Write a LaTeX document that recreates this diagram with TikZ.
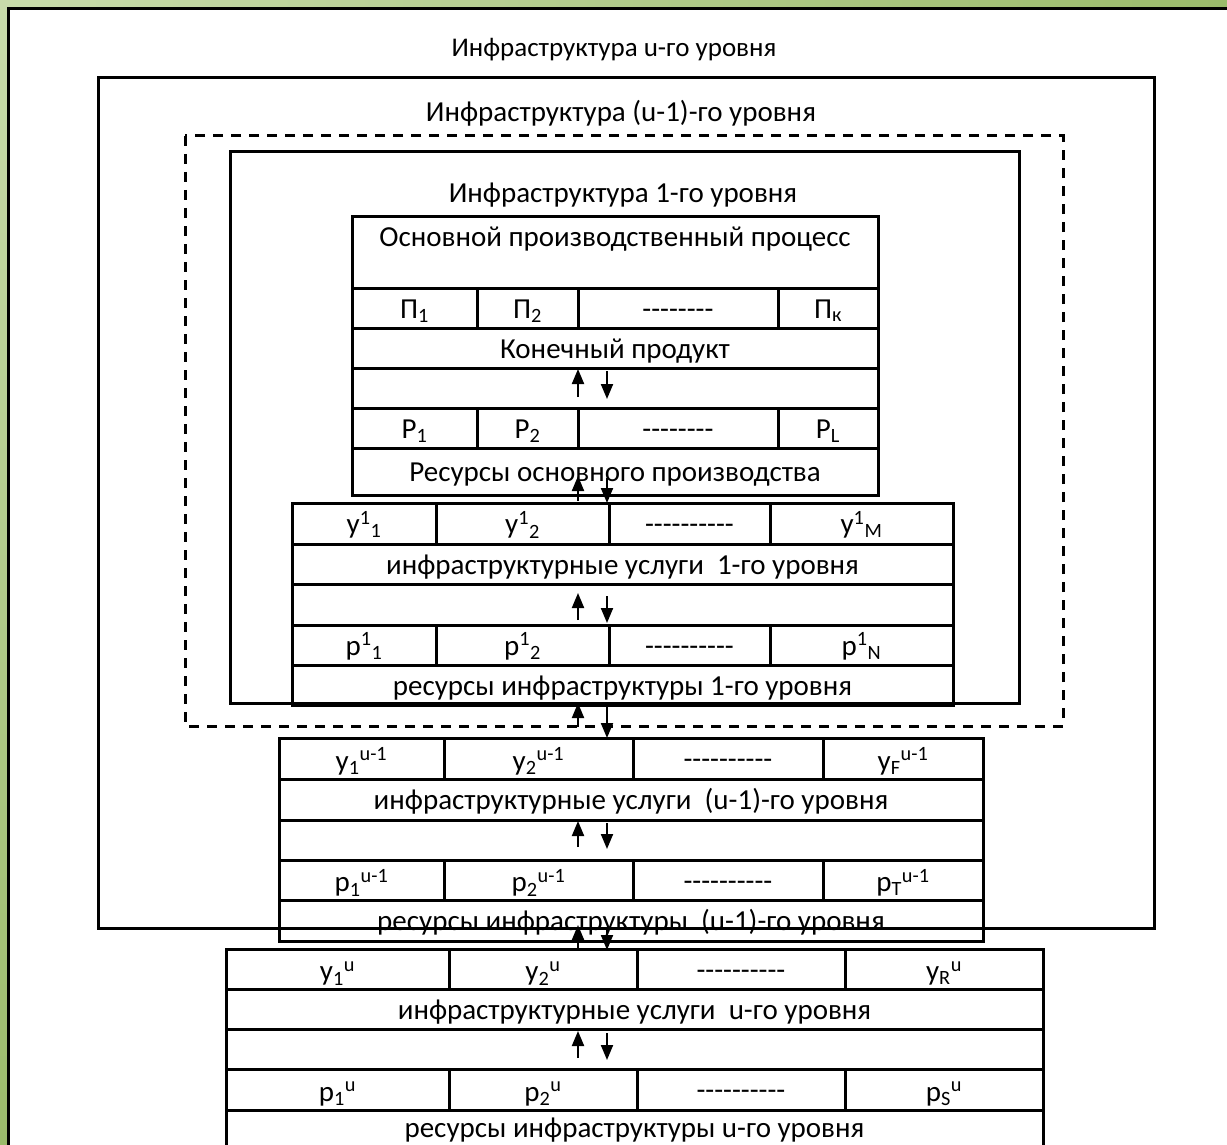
\documentclass[tikz,border=0pt]{standalone}
\usepackage{fontspec}
\setmainfont{Carlito}[Ligatures=TeXOff]
\usetikzlibrary{positioning,arrows.meta}
\definecolor{greenL}{HTML}{C8DBAB}
\definecolor{greenD}{HTML}{9BBB6B}

\tikzset{
  box/.style={draw, line width=3pt, inner sep=0pt, outer sep=0pt, minimum height=40pt,
    text height=24pt, text depth=4pt},
  tallbox/.style={box, text height=27pt, text depth=4pt},
  frame/.style={draw, line width=3pt},
  dframe/.style={draw, line width=3pt, dash pattern=on 10pt off 8pt},
  arr/.style={line width=2pt, -{Triangle[length=15pt, width=12pt]}}
}

\begin{document}
\begin{tikzpicture}[x=1pt, y=-1pt, font=\fontsize{29}{34}\selectfont]
\useasboundingbox (0,0) rectangle (1227,1145);
\clip (0,0) rectangle (1227,1145);
\fill[white] (0,0) rectangle (1227,1145);
% green border
\shade[left color=greenL, right color=greenD] (0,0) rectangle (1227,7);
\shade[top color=greenL, bottom color=greenD] (0,0) rectangle (7,1145);
\draw[line width=2.5pt] (8.5,1145) -- (8.5,8.5) -- (1227,8.5);

% frames
\draw[frame] (98,78) rectangle (1154,928);
\draw[dframe] (185,136) rectangle (1063,726);
\draw[frame] (230,152) rectangle (1019,703);
\node (t0)[font=\fontsize{27}{32}\selectfont] at (614,50) {Инфраструктура u-го уровня};
\node (t1) at (621,113) {Инфраструктура (u-1)-го уровня};
\node (t2) at (623,195) {Инфраструктура 1-го уровня};

% main process
\node (A0)[box, minimum width=526pt, minimum height=72pt, text height=18pt, text depth=28pt, anchor=north west] at (352,216) {Основной производственный процесс};
\node (A11)[box, minimum width=125pt, below=0pt of A0.south west, anchor=north west] {П\textsubscript{1}};
\node (A12)[box, minimum width=101pt, right=0pt of A11] {П\textsubscript{2}};
\node (A13)[box, minimum width=200pt, right=0pt of A12] {--------};
\node (A14)[box, minimum width=100pt, right=0pt of A13] {П\textsubscript{к}};
\node (A2)[box, minimum width=526pt, below=0pt of A11.south west, anchor=north west] {Конечный продукт};
\node (A3)[box, minimum width=526pt, below=0pt of A2] {};
\node (A41)[box, minimum width=125pt, below=0pt of A3.south west, anchor=north west] {P\textsubscript{1}};
\node (A42)[box, minimum width=101pt, right=0pt of A41] {P\textsubscript{2}};
\node (A43)[box, minimum width=200pt, right=0pt of A42] {--------};
\node (A44)[box, minimum width=100pt, right=0pt of A43] {P\textsubscript{L}};
\node (A5)[box, minimum width=526pt, minimum height=47pt, below=0pt of A41.south west, anchor=north west] {Ресурсы основного производства};

% level 1
\node (B11)[box, minimum width=144pt, minimum height=41pt, anchor=north west] at (292,503) {у\textsuperscript{1}\textsubscript{1}};
\node (B12)[box, minimum width=173pt, minimum height=41pt, right=0pt of B11] {у\textsuperscript{1}\textsubscript{2}};
\node (B13)[box, minimum width=161pt, minimum height=41pt, right=0pt of B12] {----------};
\node (B14)[box, minimum width=183pt, minimum height=41pt, right=0pt of B13] {у\textsuperscript{1}\textsubscript{M}};
\node (B2)[box, minimum width=661pt, below=0pt of B11.south west, anchor=north west] {инфраструктурные услуги\ \ 1-го уровня};
\node (B3)[box, minimum width=661pt, minimum height=41pt, below=0pt of B2] {};
\node (B41)[box, minimum width=144pt, below=0pt of B3.south west, anchor=north west] {р\textsuperscript{1}\textsubscript{1}};
\node (B42)[box, minimum width=173pt, right=0pt of B41] {р\textsuperscript{1}\textsubscript{2}};
\node (B43)[box, minimum width=161pt, right=0pt of B42] {----------};
\node (B44)[box, minimum width=183pt, right=0pt of B43] {р\textsuperscript{1}\textsubscript{N}};
\node (B5)[box, minimum width=661pt, below=0pt of B41.south west, anchor=north west] {ресурсы инфраструктуры 1-го уровня};

% level u-1
\node (C11)[tallbox, minimum width=165pt, minimum height=41pt, anchor=north west] at (279,738) {у\textsubscript{1}\textsuperscript{u-1}};
\node (C12)[tallbox, minimum width=189pt, minimum height=41pt, right=0pt of C11] {у\textsubscript{2}\textsuperscript{u-1}};
\node (C13)[box, minimum width=190pt, minimum height=41pt, right=0pt of C12] {----------};
\node (C14)[tallbox, minimum width=160pt, minimum height=41pt, right=0pt of C13] {у\textsubscript{F}\textsuperscript{u-1}};
\node (C2)[box, minimum width=704pt, minimum height=41pt, below=0pt of C11.south west, anchor=north west] {инфраструктурные услуги\ \ (u-1)-го уровня};
\node (C3)[box, minimum width=704pt, below=0pt of C2] {};
\node (C41)[tallbox, minimum width=165pt, below=0pt of C3.south west, anchor=north west] {р\textsubscript{1}\textsuperscript{u-1}};
\node (C42)[tallbox, minimum width=189pt, right=0pt of C41] {р\textsubscript{2}\textsuperscript{u-1}};
\node (C43)[box, minimum width=190pt, right=0pt of C42] {----------};
\node (C44)[tallbox, minimum width=160pt, right=0pt of C43] {р\textsubscript{T}\textsuperscript{u-1}};
\node (C5)[box, minimum width=704pt, minimum height=41pt, below=0pt of C41.south west, anchor=north west] {ресурсы инфраструктуры\ \ (u-1)-го уровня};

% level u
\node (D11)[tallbox, minimum width=223pt, anchor=north west] at (226,949) {у\textsubscript{1}\textsuperscript{u}};
\node (D12)[tallbox, minimum width=188pt, right=0pt of D11] {у\textsubscript{2}\textsuperscript{u}};
\node (D13)[box, minimum width=208pt, right=0pt of D12] {----------};
\node (D14)[tallbox, minimum width=198pt, right=0pt of D13] {у\textsubscript{R}\textsuperscript{u}};
\node (D2)[box, minimum width=817pt, below=0pt of D11.south west, anchor=north west] {инфраструктурные услуги\ \ u-го уровня};
\node (D3)[box, minimum width=817pt, below=0pt of D2] {};
\node (D41)[tallbox, minimum width=223pt, minimum height=41pt, below=0pt of D3.south west, anchor=north west] {р\textsubscript{1}\textsuperscript{u}};
\node (D42)[tallbox, minimum width=188pt, minimum height=41pt, right=0pt of D41] {р\textsubscript{2}\textsuperscript{u}};
\node (D43)[box, minimum width=208pt, minimum height=41pt, right=0pt of D42] {----------};
\node (D44)[tallbox, minimum width=198pt, minimum height=41pt, right=0pt of D43] {р\textsubscript{S}\textsuperscript{u}};
\node (D5)[box, minimum width=817pt, minimum height=41pt, text height=18pt, below=0pt of D41.south west, anchor=north west] {ресурсы инфраструктуры u-го уровня};

% arrow ends
\coordinate (u1s) at (578,397);  \coordinate (u1e) at (578,369);
\coordinate (d1s) at (607,371);  \coordinate (d1e) at (607,399);
\coordinate (u2s) at (578,501);  \coordinate (u2e) at (578,476);
\coordinate (d2s) at (607,478);  \coordinate (d2e) at (607,503);
\coordinate (u3s) at (578,620);  \coordinate (u3e) at (578,593);
\coordinate (d3s) at (607,596);  \coordinate (d3e) at (607,623);
\coordinate (u4s) at (578,727);  \coordinate (u4e) at (578,703);
\coordinate (d4s) at (607,705);  \coordinate (d4e) at (607,738);
\coordinate (u5s) at (578,847);  \coordinate (u5e) at (578,821);
\coordinate (d5s) at (607,823);  \coordinate (d5e) at (607,849);
\coordinate (u6s) at (578,949);  \coordinate (u6e) at (578,925);
\coordinate (d6s) at (607,927);  \coordinate (d6e) at (607,950);
\coordinate (u7s) at (578,1058); \coordinate (u7e) at (578,1031);
\coordinate (d7s) at (607,1033); \coordinate (d7e) at (607,1060);

\draw[arr] (u1s) -- (u1e);
\draw[arr] (d1s) -- (d1e);
\draw[arr] (u2s) -- (u2e);
\draw[arr] (d2s) -- (d2e);
\draw[arr] (u3s) -- (u3e);
\draw[arr] (d3s) -- (d3e);
\draw[arr] (u4s) -- (u4e);
\draw[arr] (d4s) -- (d4e);
\draw[arr] (u5s) -- (u5e);
\draw[arr] (d5s) -- (d5e);
\draw[arr] (u6s) -- (u6e);
\draw[arr] (d6s) -- (d6e);
\draw[arr] (u7s) -- (u7e);
\draw[arr] (d7s) -- (d7e);
\end{tikzpicture}
\end{document}
